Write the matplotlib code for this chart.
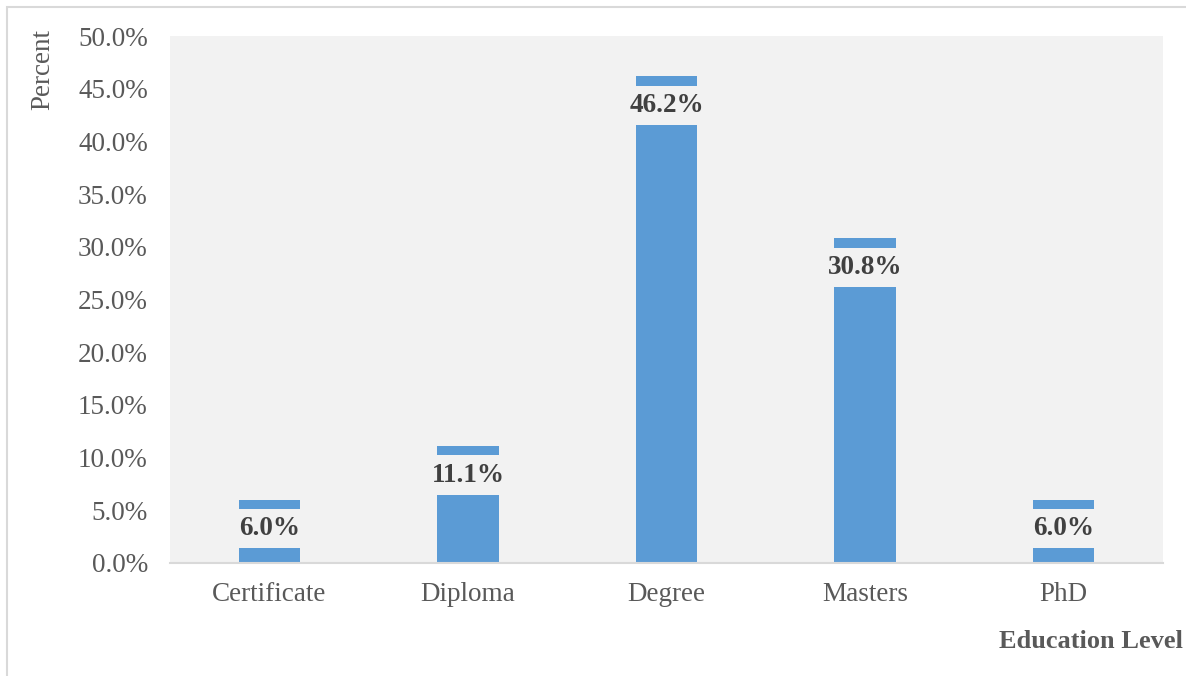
import numpy as np
import matplotlib.pyplot as plt
from matplotlib.patches import Rectangle

# education level share
levels = ['Certificate', 'Diploma', 'Degree', 'Masters', 'PhD']
percent = [6.0, 11.1, 46.2, 30.8, 6.0]

W, H = 1186, 676
DPI = 100
plt.rcParams['font.family'] = ['Liberation Serif', 'DejaVu Serif']

fig = plt.figure(figsize=(W / DPI, H / DPI), dpi=DPI)
ax = fig.add_axes([170 / W, 1 - 563 / H, (1163 - 170) / W, (563 - 36) / H])
ax.set_facecolor('#f2f2f2')

x = np.arange(len(levels))
ax.bar(x, percent, width=0.31, color='#5b9bd5', zorder=2)

ax.set_xlim(-0.5, len(levels) - 0.5)
ax.set_ylim(0, 50)
ax.set_yticks(np.arange(0, 50.1, 5))
ax.set_yticklabels(['%.1f%%' % v for v in np.arange(0, 50.1, 5)])
ax.set_xticks(x)
ax.set_xticklabels(levels)
ax.tick_params(axis='y', length=0, pad=16, labelsize=19.5, labelcolor='#595959')
ax.tick_params(axis='x', length=0, pad=14, labelsize=19.5, labelcolor='#595959')

for s in ['top', 'right', 'left']:
    ax.spines[s].set_visible(False)
ax.spines['bottom'].set_color('#d9d9d9')
ax.spines['bottom'].set_linewidth(1.5)

# value labels sitting inside the bar tops
for xi, v in zip(x, percent):
    ax.annotate('%.1f%%' % v, (xi, v), xytext=(0, -29), textcoords='offset pixels',
                ha='center', va='center', fontsize=19.5, fontweight='bold', color='#404040',
                bbox=dict(boxstyle='square,pad=0.26', fc='#f2f2f2', ec='none'), zorder=3)

fig.text(43 / W, 1 - 70 / H, 'Percent', rotation=90, ha='center', va='center',
         fontsize=19.5, color='#595959')
fig.text(1183 / W, 1 - 641 / H, 'Education Level', ha='right', va='center',
         fontsize=19, fontweight='bold', color='#595959')

# outer chart border (top and left edges visible)
fig.patches.append(Rectangle((7 / W, -0.1), 1.2, 1 - 7 / H + 0.1, transform=fig.transFigure,
                             fill=False, ec='#d9d9d9', lw=1.5))

fig.savefig('out.png', dpi=DPI)
